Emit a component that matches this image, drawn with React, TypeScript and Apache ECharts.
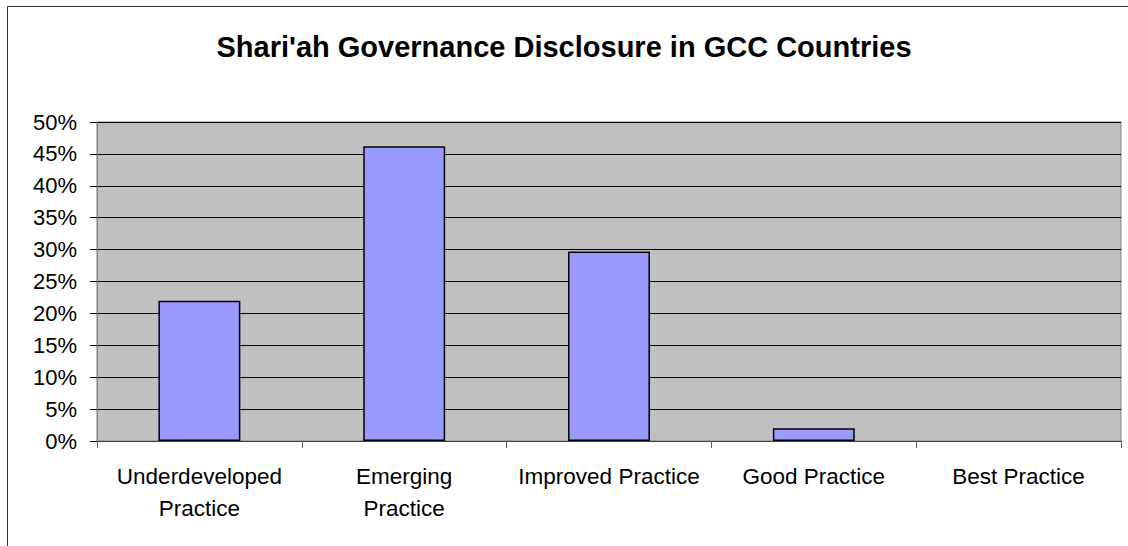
import React, { useEffect, useRef } from "react";
import * as echarts from "echarts";

const categories = [
  "Underdeveloped\nPractice",
  "Emerging\nPractice",
  "Improved Practice",
  "Good Practice",
  "Best Practice",
];
const values = [22, 46.2, 29.7, 2, 0];
const titleText = "Shari'ah Governance Disclosure in GCC Countries";
const FONT = "'Liberation Sans', Arial, Helvetica, sans-serif";

export default function App() {
  const ref = useRef<HTMLDivElement>(null);
  useEffect(() => {
    document.body.style.margin = "0";
    const chart = echarts.init(ref.current!, null, { renderer: "svg" });
    chart.setOption({
      animation: false,
      backgroundColor: "#ffffff",
      textStyle: { fontFamily: FONT },
      title: {
        text: titleText,
        left: "center",
        top: 27,
        textStyle: { fontFamily: FONT, fontSize: 29, fontWeight: "bold", color: "#000" },
      },
      graphic: [
        {
          type: "rect",
          shape: { x: 7.5, y: 6.5, width: 1140, height: 560 },
          style: { fill: "none", stroke: "#333", lineWidth: 1 },
          silent: true,
        },
      ],
      grid: {
        left: 97,
        right: 7,
        top: 122,
        bottom: 105,
        show: true,
        backgroundColor: "#c0c0c0",
        borderColor: "#808080",
        borderWidth: 1,
      },
      xAxis: {
        type: "category",
        data: categories,
        boundaryGap: true,
        axisLine: { show: true, lineStyle: { color: "#404040", width: 1 } },
        axisTick: { show: true, length: 7, lineStyle: { color: "#606060" } },
        axisLabel: {
          margin: 19,
          fontSize: 22.5,
          lineHeight: 32,
          color: "#000",
          fontFamily: FONT,
          interval: 0,
        },
      },
      yAxis: {
        type: "value",
        min: 0,
        max: 50,
        interval: 5,
        axisLine: { show: true, lineStyle: { color: "#808080" } },
        axisTick: { show: true, length: 7, lineStyle: { color: "#000" } },
        axisLabel: {
          formatter: "{value}%",
          margin: 20,
          fontSize: 22,
          color: "#000",
          fontFamily: FONT,
        },
        splitLine: { show: true, lineStyle: { color: "#000", width: 1 } },
      },
      series: [
        {
          type: "bar",
          data: values.map((v) =>
            v === 0 ? { value: v, itemStyle: { borderWidth: 0, opacity: 0 } } : v
          ),
          barWidth: "40%",
          itemStyle: { color: "#9999ff", borderColor: "#000", borderWidth: 1.5 },
        },
      ],
    });
    return () => chart.dispose();
  }, []);
  return <div ref={ref} style={{ width: 1128, height: 546 }} />;
}
